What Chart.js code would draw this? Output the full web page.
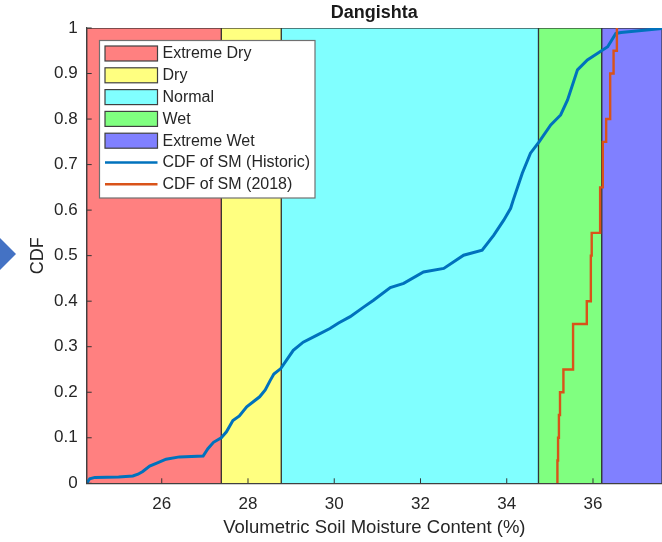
<!DOCTYPE html>
<html>
<head>
<meta charset="utf-8">
<script src="https://cdn.jsdelivr.net/npm/chart.js@4.4.1/dist/chart.umd.min.js"></script>
<style>
  html, body { margin: 0; padding: 0; background: #fff; }
  #wrap { position: relative; width: 662px; height: 542px; }
  #arrow { position: absolute; left: 0; top: 238px; width: 16px; height: 32px; background: #4472C4;
           clip-path: polygon(0 0, 100% 50%, 0 100%); }
</style>
</head>
<body>
<div id="wrap">
  <canvas id="cdfChart"></canvas>
  <div id="arrow"></div>
</div>
<script>
// Axis ticks
const xTicks = [26, 28, 30, 32, 34, 36];
const yTicks = [0, 0.1, 0.2, 0.3, 0.4, 0.5, 0.6, 0.7, 0.8, 0.9, 1];

// Drought classes (soil moisture limits, %)
const bandNames = ['Extreme Dry', 'Dry', 'Normal', 'Wet', 'Extreme Wet'];
const bandEdges = [24.26, 27.38, 28.77, 34.735, 36.2, 37.6];
const bandColors = ['#ff8080', '#ffff80', '#80ffff', '#80ff80', '#8080ff'];

// Historic CDF of soil moisture
const histSM = [24.26, 24.33, 24.45, 25.0, 25.33, 25.45, 25.56, 25.72, 25.9, 26.1,
  26.41, 26.96, 27.07, 27.2, 27.38, 27.5, 27.65, 27.8, 27.97, 28.27,
  28.4, 28.51, 28.6, 28.76, 29.05, 29.28, 29.59, 29.9, 30.1, 30.37,
  30.68, 30.91, 31.3, 31.61, 32.07, 32.54, 33.0, 33.43, 33.7, 33.93,
  34.09, 34.15, 34.36, 34.55, 34.75, 35.02, 35.25, 35.41, 35.64, 35.87,
  36.1, 36.34, 36.53, 36.65, 37.6];
const histCDF = [0, 0.01, 0.013, 0.014, 0.016, 0.02, 0.026, 0.038, 0.045, 0.053,
  0.058, 0.06, 0.076, 0.09, 0.1, 0.113, 0.138, 0.148, 0.168, 0.19,
  0.205, 0.225, 0.24, 0.252, 0.292, 0.31, 0.325, 0.34, 0.352, 0.366,
  0.387, 0.402, 0.43, 0.439, 0.464, 0.472, 0.501, 0.512, 0.545, 0.578,
  0.604, 0.622, 0.681, 0.725, 0.75, 0.787, 0.809, 0.842, 0.908, 0.93,
  0.944, 0.959, 0.988, 0.99, 0.999];

// 2018 CDF (step function)
const sm2018 = [35.159, 35.175, 35.19, 35.21, 35.235, 35.314, 35.538, 35.856, 35.95, 35.97,
  36.165, 36.228, 36.305, 36.398, 36.477, 36.554];
const cdf2018 = [0, 0.05, 0.1, 0.15, 0.2, 0.25, 0.35, 0.4, 0.5, 0.55,
  0.65, 0.75, 0.8, 0.9, 0.95, 1.0];

const FONT = "'Liberation Sans', Arial, sans-serif";
Chart.defaults.font.family = FONT;
Chart.defaults.color = '#262626';

const toPoints = (xs, ys) => xs.map((x, i) => ({ x: x, y: ys[i] }));

const datasets = bandNames.map((name, i) => ({
  label: name,
  data: [
    { x: bandEdges[i], y: 0 }, { x: bandEdges[i], y: 1 },
    { x: bandEdges[i + 1], y: 1 }, { x: bandEdges[i + 1], y: 0 }
  ],
  fill: 'origin',
  backgroundColor: bandColors[i],
  borderColor: 'rgba(40,40,40,0.8)',
  borderWidth: 1.3,
  pointRadius: 0,
  order: 2,
  isBand: true
}));

datasets.push({
  label: 'CDF of SM (Historic)',
  data: toPoints(histSM, histCDF),
  borderColor: '#0072BD',
  borderWidth: 3,
  pointRadius: 0,
  fill: false,
  order: 1
});

datasets.push({
  label: 'CDF of SM (2018)',
  data: toPoints(sm2018, cdf2018),
  borderColor: '#D95319',
  borderWidth: 2.4,
  pointRadius: 0,
  fill: false,
  stepped: 'before',
  order: 0
});

// legend box inside the axes, drawn like matlab's
const boxLegend = {
  id: 'boxLegend',
  afterDraw(chart) {
    const ctx = chart.ctx;
    const x0 = 99.5, y0 = 40.5, w = 215.5, h = 157.5;
    ctx.save();
    ctx.fillStyle = '#fff';
    ctx.fillRect(x0, y0, w, h);
    ctx.strokeStyle = '#707070';
    ctx.lineWidth = 1.2;
    ctx.strokeRect(x0, y0, w, h);
    ctx.font = '16px ' + FONT;
    ctx.textBaseline = 'middle';
    ctx.textAlign = 'left';
    chart.data.datasets.forEach((ds, i) => {
      const cy = 53.5 + i * 21.8;
      if (ds.isBand) {
        ctx.fillStyle = ds.backgroundColor;
        ctx.fillRect(105, cy - 7.5, 52.5, 15);
        ctx.strokeStyle = '#404040';
        ctx.lineWidth = 1.2;
        ctx.strokeRect(105, cy - 7.5, 52.5, 15);
      } else {
        ctx.strokeStyle = ds.borderColor;
        ctx.lineWidth = 2.6;
        ctx.beginPath();
        ctx.moveTo(105, cy);
        ctx.lineTo(157.5, cy);
        ctx.stroke();
      }
      ctx.fillStyle = '#262626';
      ctx.fillText(ds.label, 162.5, cy + 0.5);
    });
    ctx.restore();
  }
};

// inward tick marks
const innerTicks = {
  id: 'innerTicks',
  afterDatasetsDraw(chart) {
    const { ctx, chartArea: a, scales: { x, y } } = chart;
    ctx.save();
    ctx.strokeStyle = '#333';
    ctx.lineWidth = 1;
    ctx.beginPath();
    xTicks.forEach(v => {
      const px = x.getPixelForValue(v);
      ctx.moveTo(px, a.bottom);
      ctx.lineTo(px, a.bottom - 5);
    });
    yTicks.forEach(v => {
      const py = y.getPixelForValue(v);
      ctx.moveTo(a.left, py);
      ctx.lineTo(a.left + 5, py);
    });
    ctx.stroke();
    ctx.restore();
  }
};

new Chart(document.getElementById('cdfChart'), {
  type: 'line',
  data: { datasets: datasets },
  plugins: [innerTicks, boxLegend],
  options: {
    responsive: true,
    maintainAspectRatio: false,
    animation: false,
    layout: { padding: 0 },
    plugins: {
      legend: { display: false },
      tooltip: { enabled: false },
      title: {
        display: true,
        text: 'Dangishta',
        fullSize: false,
        color: '#1a1a1a',
        font: { size: 18, weight: 'bold' },
        padding: { top: 2.5, bottom: 3.9 }
      }
    },
    scales: {
      x: {
        type: 'linear',
        min: bandEdges[0],
        max: bandEdges[bandEdges.length - 1],
        afterBuildTicks: s => { s.ticks = xTicks.map(v => ({ value: v })); },
        afterFit: s => { s.height = 58.7; },
        grid: { display: false, drawTicks: false },
        border: { display: true, color: '#404040', width: 1.2, z: 1 },
        ticks: { padding: 11, font: { size: 17 }, color: '#262626' },
        title: {
          display: true,
          text: 'Volumetric Soil Moisture Content (%)',
          font: { size: 18.5 },
          color: '#262626',
          padding: { top: 0, bottom: 2.5 }
        }
      },
      y: {
        min: 0,
        max: 1,
        afterBuildTicks: s => { s.ticks = yTicks.map(v => ({ value: v })); },
        afterFit: s => { s.width = 86.7; },
        grid: { display: false, drawTicks: false },
        border: { display: true, color: '#404040', width: 1.2, z: 1 },
        ticks: { padding: 9, font: { size: 17 }, color: '#262626',
                 callback: v => String(Math.round(v * 10) / 10) },
        title: {
          display: true,
          text: 'CDF',
          font: { size: 18 },
          color: '#262626',
          padding: { top: 27, bottom: 0 }
        }
      }
    }
  }
});
</script>
</body>
</html>
